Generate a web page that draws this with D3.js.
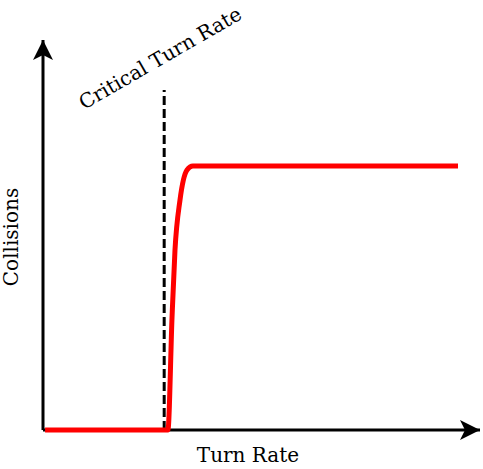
<!DOCTYPE html><html><head><script src="https://cdn.jsdelivr.net/npm/d3@7"></script>
<style>body{margin:0;background:#fff}</style></head><body><svg id="c" width="483" height="469"></svg>
<script>
const turnRate=[0.5,29.4,30.1,31.1,31.8,33,34.7,36.1,100];
const collisions=[0,0,0,43,68,87,98.5,100,100];
const criticalRate=29.2;
const labels={x:"Turn Rate",y:"Collisions",crit:"Critical Turn Rate"};
const svg=d3.select("#c");
const x=d3.scaleLinear().domain([0,100]).range([43,458]);
const y=d3.scaleLinear().domain([0,100]).range([430,166]);
const font="'DejaVu Serif', serif";
svg.append("defs").append("marker").attr("id","a").attr("viewBox","0 0 10 10").attr("refX",10).attr("refY",5)
 .attr("markerWidth",20).attr("markerHeight",20).attr("markerUnits","userSpaceOnUse").attr("orient","auto")
 .append("path").attr("d","M0,0L10,5L0,10L2.5,5Z").attr("fill","#000");
svg.append("line").attr("x1",x(0)).attr("y1",y(0)).attr("x2",480).attr("y2",y(0)).attr("stroke","#000").attr("stroke-width",3).attr("marker-end","url(#a)");
svg.append("line").attr("x1",x(0)).attr("y1",y(0)).attr("x2",x(0)).attr("y2",40).attr("stroke","#000").attr("stroke-width",3).attr("marker-end","url(#a)");
svg.append("line").attr("x1",x(criticalRate)).attr("x2",x(criticalRate)).attr("y1",y(0)).attr("y2",90)
 .attr("stroke","#000").attr("stroke-width",3).attr("stroke-dasharray","9,4");
const pts=turnRate.map((t,i)=>[t,collisions[i]]);
svg.append("path").datum(pts).attr("fill","none").attr("stroke","#ff0000").attr("stroke-width",5)
 .attr("d",d3.line().x(d=>x(d[0])).y(d=>y(d[1])).curve(d3.curveMonotoneX));
svg.append("text").attr("x",248).attr("y",462).attr("text-anchor","middle").attr("font-family",font).attr("font-size",20).text(labels.x);
svg.append("text").attr("transform","translate(18,237) rotate(-90)").attr("text-anchor","middle").attr("font-family",font).attr("font-size",20).text(labels.y);
svg.append("text").attr("transform","translate(84,110) rotate(-30)").attr("font-family",font).attr("font-size",20).text(labels.crit);
</script></body></html>
